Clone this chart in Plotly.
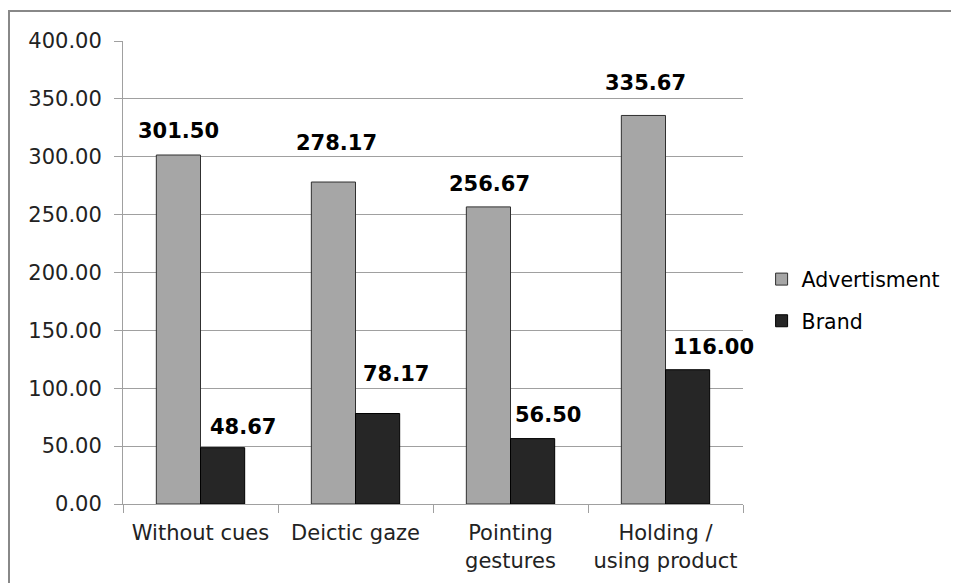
import plotly.graph_objects as go

categories = ["Without cues", "Deictic gaze", "Pointing<br>gestures", "Holding /<br>using product"]
advertisment = [301.50, 278.17, 256.67, 335.67]
brand = [48.67, 78.17, 56.50, 116.00]
y_ticks = [0, 50, 100, 150, 200, 250, 300, 350, 400]

# label pixel offsets (styling, from category centre / bar top)
adv_dx = [-22, -19, -21, -20]
adv_dy = [24, 39, 23, 32]
brand_dx = [42, 40, 37, 48]
brand_dy = [21, 40, 24, 23]

FONT = "DejaVu Sans"

fig = go.Figure()
fig.add_trace(go.Bar(
    x=categories, y=advertisment, name="Advertisment",
    marker=dict(color="#A6A6A6", line=dict(color="#303030", width=1)),
    legendgroup="a",
))
fig.add_trace(go.Bar(
    x=categories, y=brand, name="Brand",
    marker=dict(color="#262626", line=dict(color="#000000", width=1)),
    legendgroup="b",
))

annotations = []
for i, c in enumerate(categories):
    annotations.append(dict(
        x=c, y=advertisment[i], xref="x", yref="y", text=f"{advertisment[i]:.2f}",
        showarrow=False, xshift=adv_dx[i], yshift=adv_dy[i], yanchor="middle",
        font=dict(family=FONT, size=21, color="#000000", weight="bold"),
    ))
    annotations.append(dict(
        x=c, y=brand[i], xref="x", yref="y", text=f"{brand[i]:.2f}",
        showarrow=False, xshift=brand_dx[i], yshift=brand_dy[i], yanchor="middle",
        font=dict(family=FONT, size=21, color="#000000", weight="bold"),
    ))

# page body has an 8px margin: figure is 951x575 placed at (8, 8)
fig.update_layout(
    width=951, height=575,
    margin=dict(l=115, r=216, t=33, b=79, pad=0),
    paper_bgcolor="white", plot_bgcolor="white",
    barmode="group", bargap=0.43, bargroupgap=0,
    font=dict(family=FONT, size=21, color="#000000"),
    showlegend=True,
    legend=dict(
        x=1.03, xanchor="left", y=0.44, yanchor="middle",
        font=dict(family=FONT, size=20.5, color="#000000"),
        traceorder="grouped", tracegroupgap=12, itemwidth=30,
        bgcolor="rgba(0,0,0,0)", borderwidth=0,
    ),
    annotations=annotations,
    shapes=[dict(
        type="rect", xref="paper", yref="paper",
        x0=(9 - 123) / 620, x1=1.5, y0=-0.5, y1=1 + (41 - 11) / 463,
        line=dict(color="#888888", width=2), fillcolor="rgba(0,0,0,0)", layer="below",
    )],
)
fig.update_yaxes(
    range=[0, 400], tickvals=y_ticks, tickformat=".2f",
    showgrid=True, gridcolor="#A0A0A0", gridwidth=1,
    showline=True, linecolor="#A0A0A0", linewidth=1,
    ticks="outside", ticklen=8, tickcolor="#A0A0A0",
    ticklabelstandoff=8, zeroline=False, automargin=False,
    tickfont=dict(family=FONT, size=21, color="#222222"),
)
fig.update_xaxes(
    range=[-0.5, len(categories) - 0.5],
    showline=True, linecolor="#A0A0A0", linewidth=1,
    ticks="outside", ticklen=8, tickcolor="#A0A0A0", tickson="boundaries",
    showgrid=False, ticklabelstandoff=10, tickangle=0, automargin=False,
    tickfont=dict(family=FONT, size=21, color="#222222"),
)

fig.write_html("out.html")
